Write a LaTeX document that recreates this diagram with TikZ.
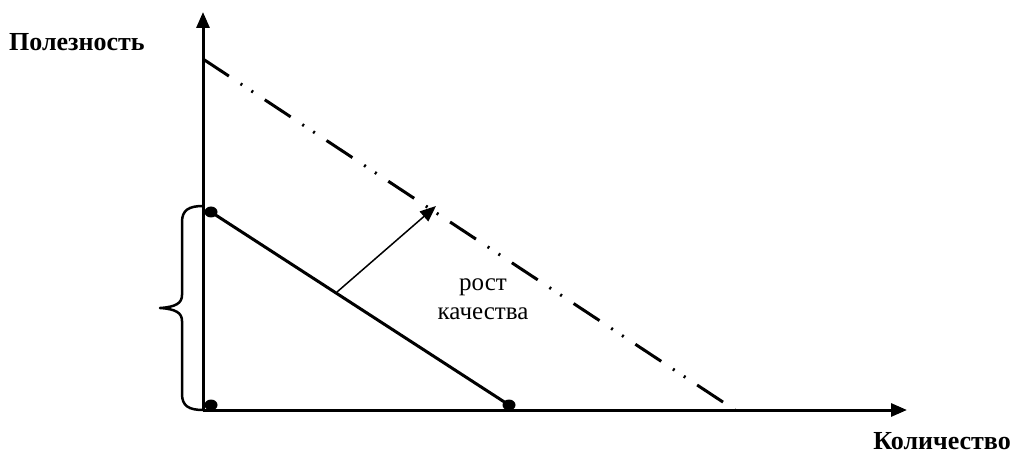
\documentclass[tikz,border=0pt]{standalone}
\usepackage{fontspec}
\setmainfont{Liberation Serif}
\usetikzlibrary{arrows.meta,shapes.geometric}
\begin{document}
\begin{tikzpicture}[x=1pt,y=-1pt,
  axis/.style={line width=3pt,-{Triangle[length=16pt,width=13pt]}},
  dotmark/.style={ellipse,fill=black,inner sep=0pt,minimum width=13pt,minimum height=11pt},
  lbl/.style={font=\bfseries\fontsize{26}{30}\selectfont,inner sep=0pt},
  budget/.style={line width=3pt},
  bracestyle/.style={line width=2.5pt,line join=round},
  dashdot/.style={line width=3pt,dash pattern=on 31pt off 14pt on 2pt off 11pt on 2pt off 14pt}]
\useasboundingbox (0,0) rectangle (1015,457);
\coordinate (O) at (203,410);
\coordinate (ytop) at (203,12);
\coordinate (xend) at (907,410);
\coordinate (dtop) at (203,59);
\coordinate (dbot) at (735,410);
\node[dotmark] (p1) at (211,212) {};
\node[dotmark] (p0) at (211,405) {};
\node[dotmark] (p2) at (509,405) {};
\draw[budget] (p1.center) -- (p2.center);
\draw[dashdot] (dtop) -- (dbot);
\draw[axis] (O) -- (ytop);
\draw[axis] (O) -- (xend);
\coordinate (as) at (337,292);
\coordinate (ae) at (436,206);
\draw[line width=1.5pt,-{Triangle[length=16pt,width=13pt]}] (as) -- (ae);
\coordinate (bt) at (203,206);
\coordinate (bb) at (203,410);
\coordinate (btip) at (160,308);
\draw[bracestyle] (bt) .. controls (189,206) and (182,210) .. (182,222)
  -- (182,295) .. controls (182,303) and (176,307) .. (btip)
  .. controls (176,309) and (182,313) .. (182,321)
  -- (182,394) .. controls (182,406) and (189,410) .. (bb);
\node[lbl,anchor=west] (yl) at (9,42) {Полезность};
\node[lbl,anchor=east] (xl) at (1011,441) {Количество};
\node[align=center,font=\fontsize{25}{29}\selectfont,inner sep=0pt] (q) at (483,299) {рост\\качества};
\end{tikzpicture}
\end{document}
